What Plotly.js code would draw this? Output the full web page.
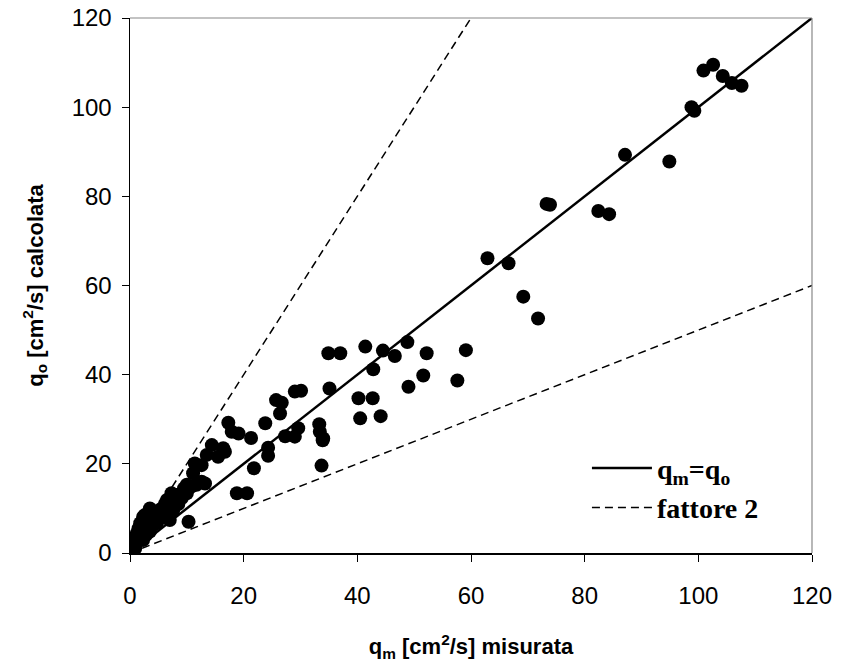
<!DOCTYPE html>
<html>
<head>
<meta charset="utf-8">
<script src="https://cdn.plot.ly/plotly-3.0.1.min.js"></script>
<style>html,body{margin:0;padding:0;background:#fff;}#chart{width:841px;height:669px;}</style>
</head>
<body>
<div id="chart"></div>
<script>
// measured discharge q_m [cm2/s]
const qMeasured = [
  100.9,102.6,104.3,105.9,107.6,98.8,99.3,87.1,94.9,73.3,73.9,82.4,84.3,62.9,66.6,69.2,71.8,
  34.9,37.0,41.4,44.5,46.6,48.8,52.2,59.1,42.8,35.1,29.0,30.1,40.2,42.7,49.0,51.6,57.6,40.5,44.1,
  33.3,33.4,33.9,33.7,25.7,26.7,26.4,23.8,17.3,17.9,19.1,21.3,27.3,29.6,29.0,34.0,24.3,24.3,16.4,
  21.8,18.8,20.6,10.3,
  14.4,16.7,15.5,13.5,11.4,12.6,11.1,10.0,11.7,13.2,12.6,10.8,8.2,9.1,7.6,7.3,10.0,
  6.2,6.5,5.6,7.6,3.5,2.6,2.3,4.1,5.9,4.7,7.0,5.3,4.7,4.1,2.1,1.8,1.5,1.2,3.5,0.6,2.3,
  0.0,0.2,0.9,1.0,0.4,1.6,2.8,3.0,5.0,8.5,9.5
];
// computed discharge q_o [cm2/s]
const qComputed = [
  108.2,109.5,107.0,105.4,104.8,100.0,99.2,89.3,87.8,78.3,78.1,76.7,76.0,66.1,65.0,57.5,52.6,
  44.8,44.8,46.3,45.4,44.2,47.3,44.8,45.5,41.2,36.9,36.2,36.4,34.7,34.7,37.3,39.8,38.7,30.2,30.7,
  28.9,27.2,25.3,19.6,34.3,33.7,31.3,29.1,29.2,27.2,26.8,25.8,26.2,28.0,26.1,25.7,23.6,21.8,23.5,
  19.0,13.4,13.4,7.0,
  24.2,22.7,21.6,22.0,20.1,19.7,17.9,15.3,15.3,15.6,16.0,14.9,13.0,12.3,12.6,13.4,13.4,
  11.1,11.9,10.0,9.6,10.0,8.5,8.1,8.1,8.9,8.9,7.4,7.7,6.7,6.3,5.9,6.7,5.5,4.4,4.8,2.9,2.9,
  1.4,0.3,1.0,2.0,0.8,3.5,4.0,6.5,9.5,11.0,14.5
];
// reference lines
const lineEqualX = [0, 120];
const lineEqualY = [0, 120];
const lineDoubleX = [0, 60];
const lineDoubleY = [0, 120];
const lineHalfX = [0, 120];
const lineHalfY = [0, 60];
const tickValues = [0, 20, 40, 60, 80, 100, 120];

const traces = [
  {x: qMeasured, y: qComputed, type: 'scatter', mode: 'markers',
   marker: {color: '#000', size: 14, line: {width: 0}}, showlegend: false, hoverinfo: 'x+y'},
  {x: lineEqualX, y: lineEqualY, type: 'scatter', mode: 'lines', name: 'q<sub>m</sub>=q<sub>o</sub>',
   line: {color: '#000', width: 2.5}},
  {x: lineDoubleX, y: lineDoubleY, type: 'scatter', mode: 'lines', name: 'fattore 2',
   legendgroup: 'f2', line: {color: '#000', width: 1.5, dash: '8px,5px'}},
  {x: lineHalfX, y: lineHalfY, type: 'scatter', mode: 'lines', name: 'fattore 2',
   legendgroup: 'f2', showlegend: false, line: {color: '#000', width: 1.5, dash: '8px,5px'}}
];

const tickFont = {family: 'Liberation Sans, Arial, sans-serif', size: 24, color: '#000'};
const titleFont = {family: 'Liberation Sans, Arial, sans-serif', size: 22, color: '#000', weight: 'bold'};
const layout = {
  width: 841, height: 669,
  margin: {l: 130, r: 29, t: 18, b: 116, pad: 0},
  paper_bgcolor: '#fff', plot_bgcolor: '#fff',
  showlegend: true,
  legend: {x: 0.67, y: 0.205, xanchor: 'left', yanchor: 'top', bgcolor: 'rgba(0,0,0,0)',
           font: {family: 'Liberation Serif, Times New Roman, serif', size: 28, color: '#000', weight: 'bold'},
           itemwidth: 60, tracegroupgap: 0},
  xaxis: {range: [0, 120], tickvals: tickValues, ticks: 'outside', ticklen: 7, tickcolor: '#000',
          showgrid: false, zeroline: false, showline: true, linecolor: '#000', linewidth: 1.5,
          tickfont: tickFont, ticklabelstandoff: 14, fixedrange: true,
          title: {text: 'q<sub>m</sub> [cm<sup>2</sup>/s] misurata', font: titleFont, standoff: 30}},
  yaxis: {range: [0, 120], tickvals: tickValues, ticks: 'outside', ticklen: 7, tickcolor: '#000',
          showgrid: false, zeroline: false, showline: true, linecolor: '#000', linewidth: 1.5,
          tickfont: tickFont, ticklabelstandoff: 5, fixedrange: true,
          title: {text: 'q<sub>o</sub> [cm<sup>2</sup>/s] calcolata', font: titleFont, standoff: 22}},
  shapes: [
    {type: 'line', xref: 'paper', yref: 'paper', x0: 0, x1: 1, y0: 1, y1: 1, line: {color: '#888', width: 1.2}},
    {type: 'line', xref: 'paper', yref: 'paper', x0: 1, x1: 1, y0: 0, y1: 1, line: {color: '#888', width: 1.2}}
  ]
};
Plotly.newPlot('chart', traces, layout, {displayModeBar: false, staticPlot: true});
</script>
</body>
</html>
